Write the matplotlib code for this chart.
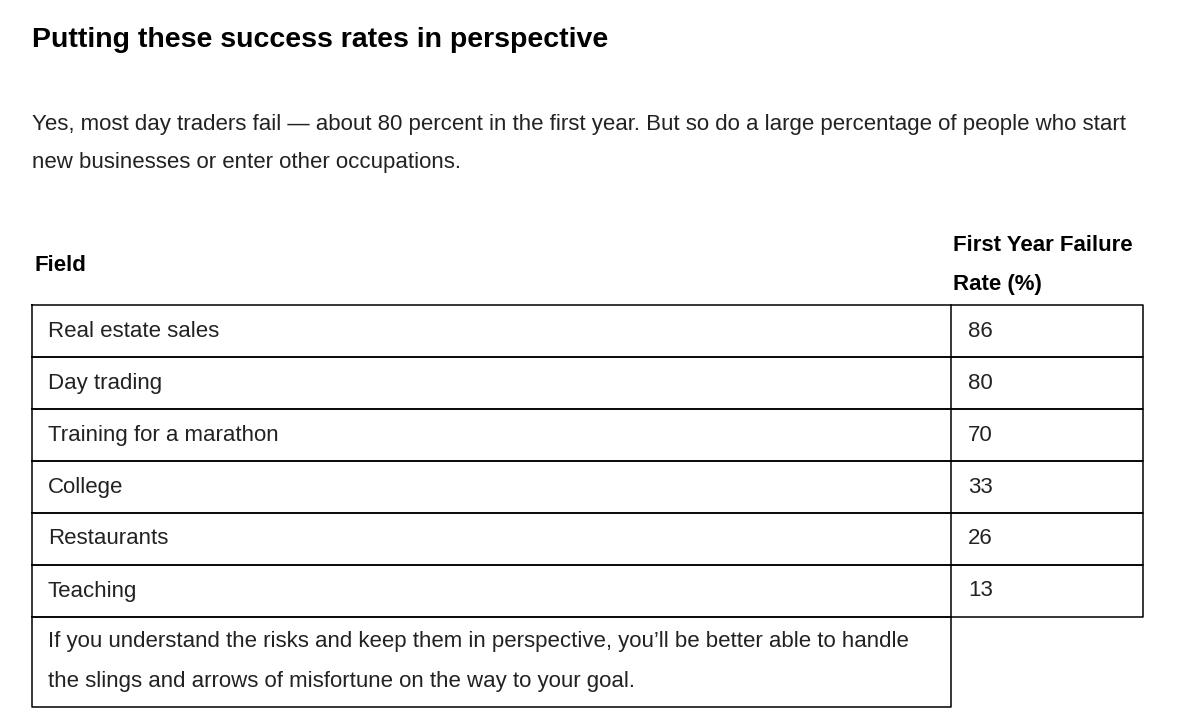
import matplotlib.pyplot as plt

title = "Putting these success rates in perspective"
intro = ["Yes, most day traders fail \u2014 about 80 percent in the first year. But so do a large percentage of people who start",
         "new businesses or enter other occupations."]
fields = ["Real estate sales", "Day trading", "Training for a marathon", "College", "Restaurants", "Teaching"]
rates = [86, 80, 70, 33, 26, 13]
note = ["If you understand the risks and keep them in perspective, you\u2019ll be better able to handle",
        "the slings and arrows of misfortune on the way to your goal."]

plt.rcParams['font.family'] = ['Liberation Sans', 'DejaVu Sans']
fs = 16

fig = plt.figure(figsize=(12, 7.25), dpi=100)
ax = fig.add_axes([0, 0, 1, 1])
ax.set_xlim(0, 1200)
ax.set_ylim(725, 0)
ax.axis('off')

ax.text(32, 40, title, fontsize=20.5, fontweight='heavy', va='center')
for i, line in enumerate(intro):
    ax.text(32, 124 + 38 * i, line, fontsize=fs, va='center', color='#222222')

# header
ax.text(34, 265, "Field", fontsize=fs, fontweight='bold', va='center')
ax.text(953, 245, "First Year Failure", fontsize=fs, fontweight='bold', va='center')
ax.text(953, 284, "Rate (%)", fontsize=fs, fontweight='bold', va='center')

left, mid, right = 32, 951, 1143
top, rh = 305, 52
lw = 1.1
for i, (f, r) in enumerate(zip(fields, rates)):
    y0 = top + rh * i
    ax.plot([left, right, right, left, left], [y0, y0, y0 + rh, y0 + rh, y0], color='black', lw=lw)
    ax.plot([mid, mid], [y0, y0 + rh], color='black', lw=lw)
    ax.text(48, y0 + rh / 2, f, fontsize=fs, va='center', color='#222222')
    ax.text(968, y0 + rh / 2, str(r), fontsize=fs, va='center', color='#222222')

y0 = top + rh * len(fields)
ax.plot([left, mid, mid, left, left], [y0, y0, 707, 707, y0], color='black', lw=lw)
for i, line in enumerate(note):
    ax.text(48, y0 + 25 + 40 * i, line, fontsize=fs, va='center', color='#222222')

fig.savefig("out.png", dpi=100)
